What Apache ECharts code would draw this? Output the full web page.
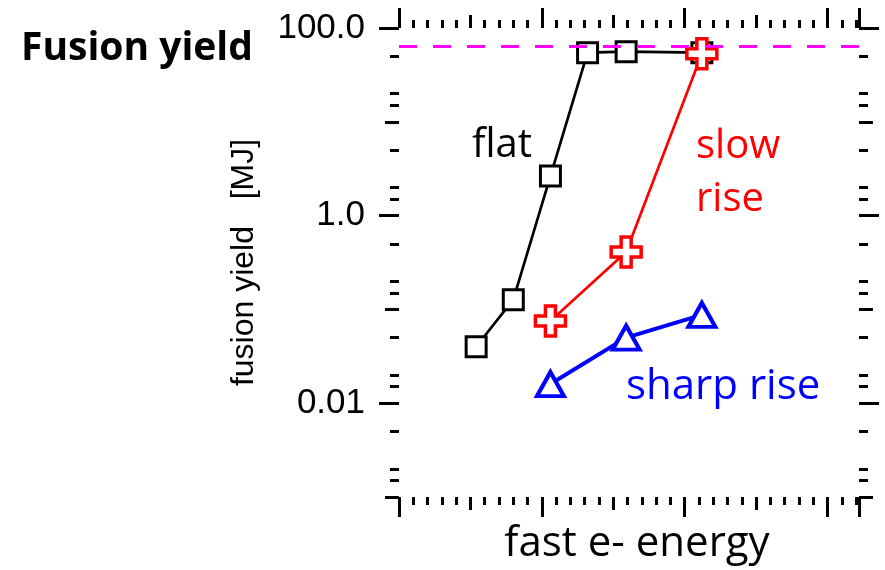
<!DOCTYPE html>
<html>
<head>
<meta charset="utf-8">
<script src="https://cdn.jsdelivr.net/npm/echarts@6/dist/echarts.min.js"></script>
<style>
html, body { margin: 0; background: #fff; }
#chart { width: 885px; height: 570px; }
</style>
</head>
<body>
<div id="chart"></div>
<script>
// data (x in arbitrary energy units, y in MJ)
const energyFlat = [0.54, 0.80, 1.06, 1.32, 1.59, 2.12];
const yieldFlat = [0.040, 0.127, 2.64, 54.6, 55.9, 54.6];
const energySlow = [1.06, 1.59, 2.12];
const yieldSlow = [0.075, 0.41, 53.2];
const energySharp = [1.06, 1.59, 2.12];
const yieldSharp = [0.016, 0.050, 0.0875];
const ignitionYield = 64;

// y tick marks (log axis)
const yMajorTicks = [0.01, 1, 100];
const yMajorLabels = ['0.01', '1.0', '100.0'];
const yMidTicks = [0.001, 0.1, 10];
const yMinorTicks = [0.0015, 0.002, 0.005, 0.015, 0.02, 0.05, 0.15, 0.2, 0.5, 1.5, 2, 5, 15, 20, 50];

const chart = echarts.init(document.getElementById('chart'))

function xTicks (position, interval, len, extra) {
  return Object.assign({
    type: 'value',
    position: position,
    min: 0,
    max: 3.22,
    interval: interval,
    axisLine: { show: false, onZero: false },
    splitLine: { show: false },
    axisLabel: { show: false },
    axisTick: { show: true, inside: false, length: len, lineStyle: { color: '#000', width: 3 } }
  }, extra || {})
}

function yTicks (position, values, len, extra) {
  return Object.assign({
    type: 'log',
    logBase: 10,
    position: position,
    min: 0.001,
    max: 100,
    axisLine: { show: false, onZero: false },
    splitLine: { show: false },
    axisLabel: { show: false },
    axisTick: { show: true, inside: false, length: len, customValues: values, lineStyle: { color: '#000', width: 3 } }
  }, extra || {})
}

function yLabel (v) {
  for (let i = 0; i < yMajorTicks.length; i++) {
    if (Math.abs(Math.log10(v / yMajorTicks[i])) < 0.01) return yMajorLabels[i]
  }
  return ''
}

const plusPath = 'path://M1,0 H2 V1 H3 V2 H2 V3 H1 V2 H0 V1 H1 Z'

chart.setOption({
  animation: false,
  title: {
    text: 'Fusion yield',
    left: 16,
    top: 24,
    textStyle: { fontFamily: 'Open Sans', fontWeight: 'bold', fontSize: 39, color: '#000' }
  },
  grid: { left: 399, right: 26, top: 28, bottom: 67 },
  xAxis: [
    xTicks('bottom', 1, 20, {
      name: 'fast e- energy',
      nameLocation: 'middle',
      nameGap: 26,
      nameTextStyle: { fontFamily: 'Open Sans', fontSize: 42, color: '#000', padding: [0, 0, 0, 16] }
    }),
    xTicks('bottom', 0.5, 13),
    xTicks('bottom', 0.1, 8),
    xTicks('top', 1, 20),
    xTicks('top', 0.5, 13),
    xTicks('top', 0.1, 8)
  ],
  yAxis: [
    yTicks('left', yMajorTicks, 20, {
      name: 'fusion yield   [MJ]',
      nameLocation: 'middle',
      nameGap: 139,
      nameTextStyle: { fontFamily: 'Liberation Sans', fontSize: 32, color: '#000' },
      axisLabel: {
        show: true,
        customValues: yMajorTicks,
        formatter: yLabel,
        margin: 34,
        fontFamily: 'Liberation Sans',
        fontSize: 35,
        color: '#000'
      }
    }),
    yTicks('left', yMidTicks, 14),
    yTicks('left', yMinorTicks, 9),
    yTicks('right', yMajorTicks, 20),
    yTicks('right', yMidTicks, 14),
    yTicks('right', yMinorTicks, 9)
  ],
  graphic: [
    { type: 'text', left: 472, top: 126, style: { text: 'flat', fill: '#000', font: '40px "Open Sans"' } },
    { type: 'text', left: 696, top: 120, style: { text: 'slow\nrise', fill: '#ff0000', font: '40px "Open Sans"', lineHeight: 53 } },
    { type: 'text', left: 626, top: 366, style: { text: 'sharp rise', fill: '#0000ff', font: '42px "Open Sans"' } }
  ],
  series: [
    {
      type: 'line',
      data: [],
      z: 1,
      silent: true,
      markLine: {
        symbol: 'none',
        silent: true,
        label: { show: false },
        lineStyle: { color: '#ff00ff', type: [18, 16], width: 3 },
        data: [{ yAxis: ignitionYield }]
      }
    },
    {
      name: 'flat',
      type: 'line',
      z: 3,
      data: energyFlat.map((x, i) => [x, yieldFlat[i]]),
      symbol: 'rect',
      symbolSize: 20,
      lineStyle: { color: '#000', width: 2.7 },
      itemStyle: { color: '#fff', borderColor: '#000', borderWidth: 3 }
    },
    {
      name: 'slow rise',
      type: 'line',
      z: 4,
      data: energySlow.map((x, i) => [x, yieldSlow[i]]),
      symbol: plusPath,
      symbolSize: 30,
      lineStyle: { color: '#ff0000', width: 2.7 },
      itemStyle: { color: '#fff', borderColor: '#ff0000', borderWidth: 3.5 }
    },
    {
      name: 'sharp rise',
      type: 'line',
      z: 4,
      data: energySharp.map((x, i) => [x, yieldSharp[i]]),
      symbol: 'triangle',
      symbolSize: [27, 24],
      lineStyle: { color: '#0000ff', width: 4 },
      itemStyle: { color: '#fff', borderColor: '#0000ff', borderWidth: 4 }
    }
  ]
})
</script>
</body>
</html>
